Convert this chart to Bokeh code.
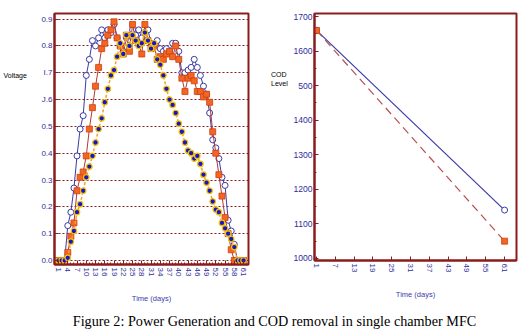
import math
from bokeh.plotting import figure
from bokeh.layouts import column, row
from bokeh.models import FixedTicker, Label, Range1d
from bokeh.embed import file_html
from bokeh.resources import INLINE

# ---------------- data ----------------
days = list(range(1, 62))

volt_circles = [0, 0, 0, 0.13, 0.18, 0.27, 0.39, 0.49, 0.54, 0.69,
                0.75, 0.82, 0.80, 0.83, 0.86, 0.83, 0.86, 0.85, 0.88, 0.83,
                0.80, 0.78, 0.83, 0.80, 0.86, 0.84, 0.86, 0.83, 0.85, 0.86,
                0.81, 0.80, 0.82, 0.79, 0.78, 0.79, 0.78, 0.81, 0.81, 0.78,
                0.70, 0.70, 0.71, 0.72, 0.75, 0.72, 0.69, 0.65, 0.62, 0.55,
                0.45, 0.42, 0.38, 0.31, 0.28, 0.15, 0.11, 0.06, 0, 0, 0]

volt_squares = [0, 0, 0, 0.03, 0.09, 0.14, 0.26, 0.31, 0.33, 0.39,
                0.49, 0.57, 0.65, 0.72, 0.79, 0.81, 0.84, 0.86, 0.89, 0.83,
                0.80, 0.77, 0.84, 0.78, 0.88, 0.82, 0.81, 0.77, 0.88, 0.82,
                0.79, 0.80, 0.75, 0.76, 0.75, 0.77, 0.78, 0.76, 0.80, 0.75,
                0.68, 0.63, 0.68, 0.69, 0.67, 0.63, 0.63, 0.61, 0.62, 0.59,
                0.48, 0.40, 0.32, 0.24, 0.16, 0.10, 0.04, 0, 0, 0, 0]

volt_dots = [0, 0, 0, 0.01, 0.07, 0.11, 0.18, 0.21, 0.26, 0.31,
             0.35, 0.39, 0.44, 0.49, 0.53, 0.59, 0.64, 0.69, 0.71, 0.76,
             0.81, 0.77, 0.84, 0.80, 0.84, 0.82, 0.80, 0.81, 0.85, 0.82,
             0.79, 0.81, 0.75, 0.73, 0.69, 0.64, 0.60, 0.58, 0.55, 0.51,
             0.48, 0.44, 0.41, 0.40, 0.38, 0.39, 0.36, 0.32, 0.29, 0.26,
             0.22, 0.19, 0.18, 0.14, 0.12, 0.10, 0.08, 0.05, 0, 0, 0]

volt_ticks = [0.0, 0.1, 0.2, 0.3, 0.4, 0.5, 0.6, 0.7, 0.8, 0.9]
volt_tick_labels = ["0.0", "0.1", "0.2", "0.3", "0.4", "0.5", "J.6", "I.7", "0.8", "0.9"]
left_x_ticks = list(range(1, 62, 3))

cod_days = [1, 61]
cod_circles = [1660, 1140]
cod_squares = [1660, 1050]
cod_ticks = [1000, 1100, 1200, 1300, 1400, 1500, 1600, 1700]
cod_tick_labels = ["1000", "1100", "1200", "1300", "1400", "500", "1600", "1700"]
right_x_ticks = list(range(1, 62, 6))

caption = "Figure 2: Power Generation and COD removal in single chamber MFC"

# ---------------- style ----------------
FRAME = "#8b1c1c"
TICKC = "#2e2e9a"
FONT = "Liberation Sans"
H = 305


def style_axes(p, ysize):
    p.outline_line_color = FRAME
    p.outline_line_width = 2
    for ax in (p.xaxis[0], p.yaxis[0]):
        ax.axis_line_color = FRAME
        ax.axis_line_width = 2
        ax.major_tick_line_color = FRAME
        ax.minor_tick_line_color = FRAME
        ax.major_tick_in = 4
        ax.major_tick_out = 0
        ax.minor_tick_in = 2
        ax.minor_tick_out = 0
        ax.major_label_text_color = TICKC
        ax.major_label_text_font = FONT
        ax.major_label_standoff = 3
    p.yaxis[0].major_label_standoff = 2
    p.xaxis[0].major_label_text_font_size = "8px"
    p.yaxis[0].major_label_text_font_size = ysize
    p.xaxis[0].major_label_orientation = -math.pi / 2
    p.xaxis[0].axis_label = "Time (days)"
    p.xaxis[0].axis_label_text_font = FONT
    p.xaxis[0].axis_label_text_font_size = "7.5px"
    p.xaxis[0].axis_label_text_font_style = "normal"
    p.xaxis[0].axis_label_text_color = "#3a3ab0"
    p.xaxis[0].axis_label_standoff = 15
    p.background_fill_color = "white"
    p.border_fill_color = "white"


def text_panel(width, texts):
    t = figure(width=width, height=H, min_border=0, x_range=Range1d(0, width),
               y_range=Range1d(0, H), x_axis_location=None, y_axis_location=None,
               output_backend="svg", toolbar_location=None)
    t.grid.visible = False
    t.outline_line_color = None
    for (tx, ty, s) in texts:
        t.add_layout(Label(x=tx, y=H - ty, text=s, text_font=FONT, text_font_size="7px",
                           text_color="black", text_baseline="middle", text_align="left"))
    return t


# ---------------- left chart ----------------
tl = text_panel(38, [(3, 76.7, "Voltage")])

pl = figure(frame_width=194, frame_height=251, min_border_left=16, min_border_right=14,
            min_border_top=9, min_border_bottom=45,
            x_range=Range1d(-0.3, 62.6), y_range=Range1d(-0.015, 0.921),
            output_backend="svg", toolbar_location=None)
style_axes(pl, "8px")
pl.xgrid.visible = False
pl.ygrid.grid_line_color = FRAME
pl.ygrid.grid_line_dash = "2 2"
pl.ygrid.grid_line_width = 1
pl.yaxis[0].ticker = FixedTicker(ticks=volt_ticks, minor_ticks=[])
pl.yaxis[0].major_label_overrides = dict(zip(volt_ticks, volt_tick_labels))
pl.xaxis[0].ticker = FixedTicker(ticks=left_x_ticks, minor_ticks=days)

pl.line(days, volt_circles, line_color="#3a3aa6", line_width=1)
pl.scatter(days, volt_circles, marker="circle", size=6, line_color="#3a3aa6",
           fill_color="white", line_width=1)
pl.line(days, volt_squares, line_color="#b03838", line_width=1)
pl.scatter(days, volt_squares, marker="square", size=6, line_color="#d04010",
           fill_color="#f26522", line_width=0.8)
pl.line(days, volt_dots, line_color="#f4a030", line_width=1.5, line_dash="3 2")
pl.scatter(days, volt_dots, marker="circle", size=5.5, line_color="#f5c400",
           fill_color="#1515d0", line_width=1.2)

# ---------------- right chart ----------------
tr = text_panel(28, [(8.5, 75, "COD"), (8.5, 86, "Level")])

pr = figure(frame_width=202, frame_height=247, min_border_left=22, min_border_right=14,
            min_border_top=13, min_border_bottom=45,
            x_range=Range1d(0.36, 64.8), y_range=Range1d(994, 1709),
            output_backend="svg", toolbar_location=None)
style_axes(pr, "8.6px")
pr.xgrid.visible = False
pr.ygrid.visible = False
pr.yaxis[0].ticker = FixedTicker(ticks=cod_ticks,
                                 minor_ticks=[1050, 1150, 1250, 1350, 1450, 1550, 1650])
pr.yaxis[0].major_label_overrides = dict(zip(cod_ticks, cod_tick_labels))
pr.xaxis[0].ticker = FixedTicker(ticks=right_x_ticks, minor_ticks=[])

pr.line(cod_days, cod_circles, line_color="#3a3aa6", line_width=1.2)
pr.scatter(cod_days, cod_circles, marker="circle", size=6, line_color="#3a3aa6",
           fill_color="white", line_width=1)
pr.line(cod_days, cod_squares, line_color="#b85050", line_width=1.2, line_dash="8 5")
pr.scatter(cod_days, cod_squares, marker="square", size=6, line_color="#d04010",
           fill_color="#f26522", line_width=0.8)

# ---------------- caption ----------------
pc = figure(width=528, height=28, min_border=0, x_range=Range1d(0, 528), y_range=Range1d(0, 28),
            x_axis_location=None, y_axis_location=None,
            output_backend="svg", toolbar_location=None)
pc.grid.visible = False
pc.outline_line_color = None
pc.add_layout(Label(x=274, y=13, text=caption,
                    text_font="Liberation Serif", text_font_size="14.2px", text_color="black",
                    text_baseline="middle", text_align="center"))

layout = column(row(tl, pl, tr, pr, spacing=0), pc, spacing=0)
open("out.html", "w").write(file_html(layout, INLINE))
